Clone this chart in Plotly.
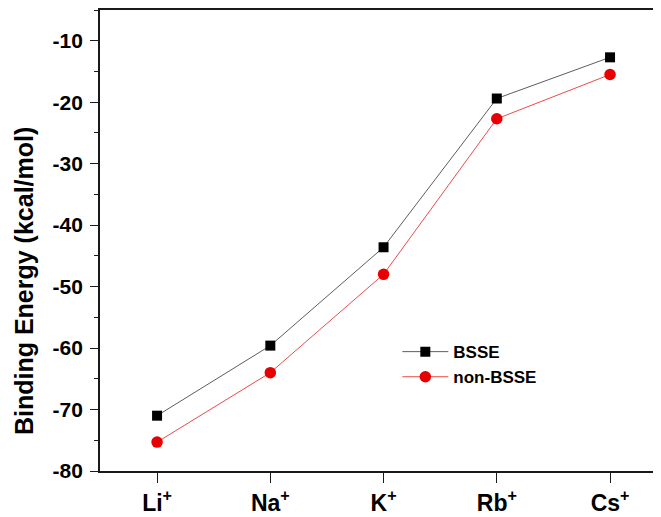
import plotly.graph_objects as go

categories = ["Li<sup>+</sup>", "Na<sup>+</sup>", "K<sup>+</sup>", "Rb<sup>+</sup>", "Cs<sup>+</sup>"]
bsse = [-71.0, -59.6, -43.6, -19.4, -12.7]
non_bsse = [-75.3, -64.0, -48.0, -22.7, -15.5]
y_tickvals = [-80, -70, -60, -50, -40, -30, -20, -10]
y_ticktext = ["-80", "-70", "-60", "-50", "-40", "-30", "-20", "-10"]
y_title = "Binding Energy (kcal/mol)"

xpos = list(range(len(categories)))
font_fam = "Liberation Sans, Arial, sans-serif"
axc = "#1a1a1a"

fig = go.Figure()
fig.add_trace(go.Scatter(
    x=xpos, y=bsse, mode="lines+markers", name="BSSE",
    line=dict(color="#333333", width=0.8),
    marker=dict(symbol="square", size=10, color="black"),
))
fig.add_trace(go.Scatter(
    x=xpos, y=non_bsse, mode="lines+markers", name="non-BSSE",
    line=dict(color="#e02020", width=0.8),
    marker=dict(symbol="circle", size=11.5, color="#e80000"),
))

fig.add_annotation(
    text="<b>" + y_title + "</b>", textangle=-90, showarrow=False,
    xref="paper", yref="paper", x=-0.1355, y=0.412, xanchor="center", yanchor="middle",
    font=dict(size=25, family=font_fam, color="black"),
)

fig.update_layout(
    width=653, height=509,
    margin=dict(l=92, r=0, t=2, b=46, autoexpand=False),
    paper_bgcolor="white", plot_bgcolor="white",
    font=dict(family=font_fam, color="black", size=17),
    showlegend=True,
    legend=dict(
        x=0.53, y=0.297, xanchor="left", yanchor="top",
        bgcolor="rgba(0,0,0,0)", font=dict(size=17, family=font_fam, weight="bold"),
        itemwidth=46, tracegroupgap=0,
    ),
    xaxis=dict(
        range=[-0.504, 4.45], tickvals=xpos, ticktext=["<b>" + c + "</b>" for c in categories],
        showgrid=False, zeroline=False, showline=True, linecolor=axc, linewidth=1.8,
        mirror=True, ticks="outside", ticklen=10, tickwidth=1.3, tickcolor=axc,
        tickfont=dict(size=23, family=font_fam, weight="bold"), automargin=False,
    ),
    yaxis=dict(
        range=[-80, -5], tickvals=y_tickvals, ticktext=y_ticktext,
        showgrid=False, zeroline=False, showline=True, linecolor=axc, linewidth=1.8,
        mirror=False, ticks="outside", ticklen=8, tickwidth=1.3, tickcolor=axc,
        tickfont=dict(size=21, family=font_fam, weight="bold"), ticklabelstandoff=3,
        minor=dict(dtick=5, tick0=0, ticks="outside", ticklen=4, tickwidth=1.3, tickcolor=axc, showgrid=False),
        automargin=False,
    ),
)

fig.write_html("out.html")
